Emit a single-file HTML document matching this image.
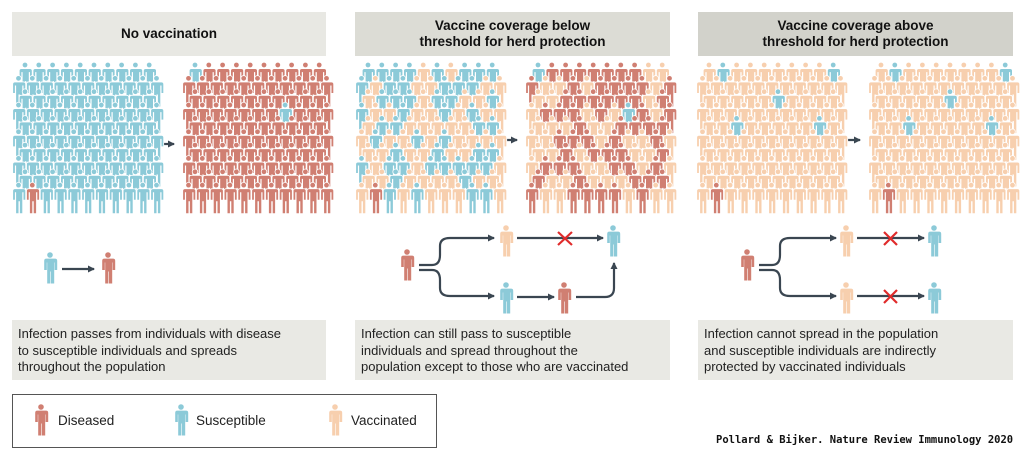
<!DOCTYPE html>
<html><head><meta charset="utf-8"><style>
body{margin:0;background:#fff;width:1024px;height:456px;overflow:hidden;font-family:"Liberation Sans",sans-serif}
.hdr{position:absolute;top:12px;height:44px;display:flex;align-items:center;justify-content:center;text-align:center;font-weight:bold;font-size:13.5px;line-height:16px;color:#111}
.box{position:absolute;top:320px;height:60px;background:#e9e9e4;font-size:13px;line-height:16.5px;color:#222;padding:6px 6px 0 6px;box-sizing:border-box;white-space:nowrap}
.leg{position:absolute;left:12px;top:394px;width:425px;height:54px;border:1px solid #555;box-sizing:border-box}
.lt{position:absolute;font-size:13.5px;color:#222;top:413px}
.cit{position:absolute;left:716px;top:434px;font-family:"DejaVu Sans Mono","Liberation Mono",monospace;font-weight:bold;font-size:10.5px;color:#111}
svg{position:absolute;left:0;top:0}
</style></head><body>
<div class="hdr" style="left:12px;width:314px;background:#e8e8e3">No vaccination</div>
<div class="hdr" style="left:355px;width:315px;background:#dcdcd5">Vaccine coverage below<br>threshold for herd protection</div>
<div class="hdr" style="left:698px;width:315px;background:#d2d2cb">Vaccine coverage above<br>threshold for herd protection</div>
<div class="box" style="left:12px;width:314px">Infection passes from individuals with disease<br>to susceptible individuals and spreads<br>throughout the population</div>
<div class="box" style="left:355px;width:315px">Infection can still pass to susceptible<br>individuals and spread throughout the<br>population except to those who are vaccinated</div>
<div class="box" style="left:698px;width:315px">Infection cannot spread in the population<br>and susceptible individuals are indirectly<br>protected by vaccinated individuals</div>
<div class="leg"></div>
<div class="lt" style="left:58px">Diseased</div>
<div class="lt" style="left:196px">Susceptible</div>
<div class="lt" style="left:351px">Vaccinated</div>
<div class="cit">Pollard &amp; Bijker. Nature Review Immunology 2020</div>
<svg id="s" width="1024" height="456" xmlns="http://www.w3.org/2000/svg">
<defs>
<marker id="ah" markerWidth="8" markerHeight="8" refX="6" refY="4" orient="auto" markerUnits="userSpaceOnUse"><path d="M0,0.5 L7,4 L0,7.5 z" fill="#3a4651"/></marker>
</defs>
<g fill="none" stroke="#3a4651" stroke-width="2.2">
<line x1="158" y1="144" x2="174" y2="144" marker-end="url(#ah)"/>
<line x1="500" y1="140" x2="517" y2="140" marker-end="url(#ah)"/>
<line x1="843" y1="140" x2="860" y2="140" marker-end="url(#ah)"/>
<line x1="62" y1="269" x2="94" y2="269" marker-end="url(#ah)"/>
<path d="M419,265 H432 Q440,265 440,255 V246 Q440,238 450,238 H494" marker-end="url(#ah)"/>
<path d="M419,270 H432 Q440,270 440,280 V288 Q440,296 450,296 H494" marker-end="url(#ah)"/>
<line x1="517" y1="238" x2="603" y2="238" marker-end="url(#ah)"/>
<line x1="517" y1="297" x2="554" y2="297" marker-end="url(#ah)"/>
<path d="M576,297 H605 Q614,297 614,288 V263" marker-end="url(#ah)"/>
<path d="M759,265 H772 Q780,265 780,255 V246 Q780,238 790,238 H836" marker-end="url(#ah)"/>
<path d="M759,270 H772 Q780,270 780,280 V288 Q780,296 790,296 H836" marker-end="url(#ah)"/>
<line x1="857" y1="238" x2="924" y2="238" marker-end="url(#ah)"/>
<line x1="857" y1="296" x2="924" y2="296" marker-end="url(#ah)"/>
</g>
<g stroke="#e02b2b" stroke-width="2.2">
<path d="M558,232 L572,245 M572,232 L558,245"/>
<path d="M884,232 L897,245 M897,232 L884,245"/>
<path d="M884,290 L897,303 M897,290 L884,303"/>
</g>
<g id="people"></g>
</svg>
<script>
var B="#8ccad8",R="#d07f72",P="#f7cfae";
var body="M-5,3.6 h10 q2.2,0 2.2,2.2 v9.2 h-2.6 v-7.5 h-0.4 v21 h-3.2 v-12 h-0.6 v12 h-3.2 v-21 h-0.4 v7.5 h-2.6 v-9.2 q0,-2.2 2.2,-2.2z";
var out="";
function person(x,y,c,s,stroke){s=s||1;
 out+='<g transform="translate('+x+','+y+') scale('+s+')" fill="'+c+'"'+(stroke?' stroke="#fff" stroke-width="0.8"':'')+'><circle cx="0" cy="0" r="2.8"/><path d="'+body+'"/></g>';}
var seed=7;function rnd(){seed=(seed*16807)%2147483647;return seed/2147483647;}
function grid(left,fn){
 for(var r=0;r<10;r++){var y=65+r*13.35;var odd=r%2==1;var n=odd?11:10;var sx=left+(odd?6.5:13);
  for(var i=0;i<n;i++){person(sx+i*13.8,y,fn(r,i),1,true);}}
}
grid(12,function(r,i){return (r==9&&i==1)?R:B;});
grid(182,function(r,i){return (r==0&&i==0)||(r==3&&i==7)?B:R;});
seed=11;grid(355,function(r,i){if(r==9&&i==1)return R;return rnd()<0.5?B:P;});
seed=23;grid(525,function(r,i){if((r==0&&i==0)||(r==3&&i==7))return B;return rnd()<0.55?R:P;});
function g3(r,i){if(r==9&&i==1)return R;if((r==0&&(i==1||i==9))||(r==2&&i==5)||(r==4&&(i==2||i==8)))return B;return P;}
grid(696,g3);grid(868,g3);
person(50,255,B,1.0);person(108,255,R,1.0);
person(407,252,R,1.0);person(506,228,P,1.0);person(613,228,B,1.0);
person(506,285,B,1.0);person(564,285,R,1.0);
person(747,252,R,1.0);person(846,228,P,1.0);person(934,228,B,1.0);
person(846,285,P,1.0);person(934,285,B,1.0);
person(41,407,R,1.0);person(181,407,B,1.0);person(335,407,P,1.0);
document.getElementById("people").innerHTML=out;
</script>
</body></html>
